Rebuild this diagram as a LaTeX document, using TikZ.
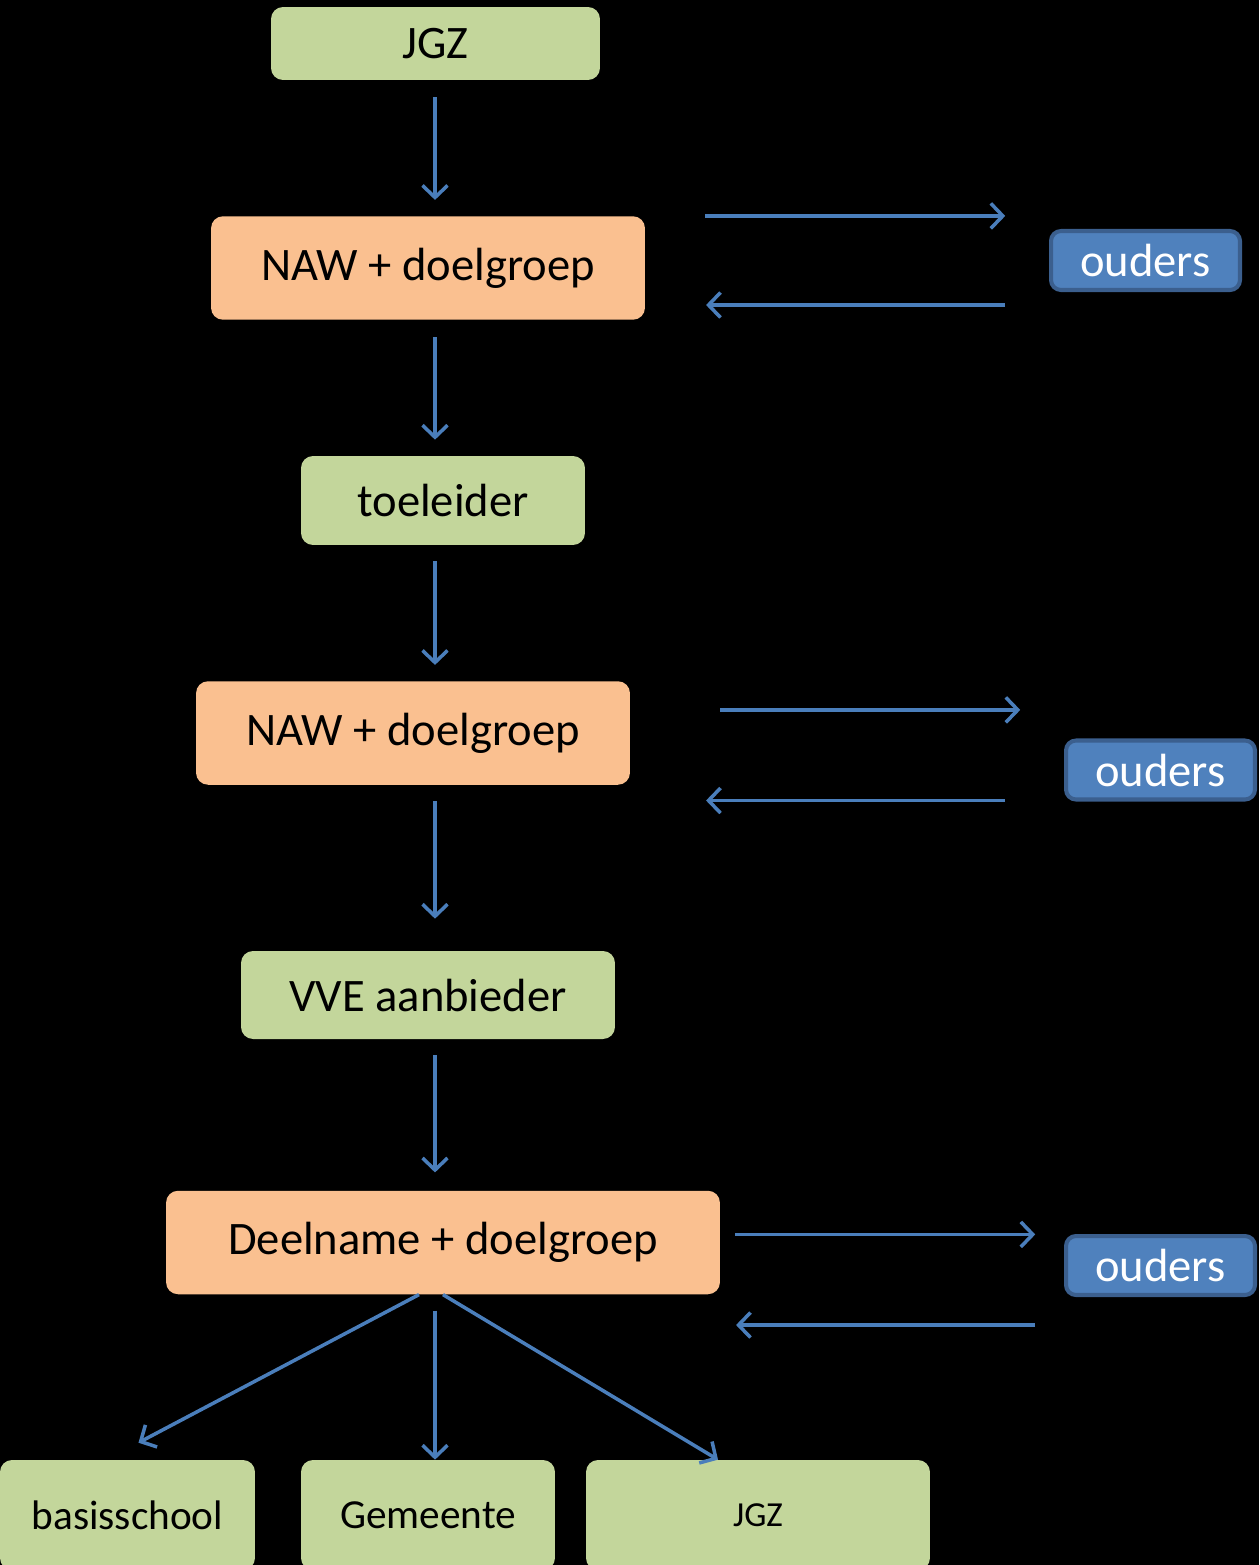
\documentclass[tikz,border=0pt]{standalone}
\usepackage{fontspec}
\setmainfont{Carlito}
\usetikzlibrary{arrows.meta}
\definecolor{boxgreen}{HTML}{C3D69B}
\definecolor{boxorange}{HTML}{FAC090}
\definecolor{boxblue}{HTML}{4F81BD}
\definecolor{boxblueline}{HTML}{3B5F8E}
\definecolor{flowblue}{HTML}{4A7EBB}
\begin{document}
\begin{tikzpicture}[x=0.02cm,y=-0.02cm,
    greenbox/.style={fill=boxgreen,rounded corners=0.24cm,inner sep=0pt,font=\fontsize{26.5}{30}\selectfont},
    orangebox/.style={fill=boxorange,rounded corners=0.24cm,inner sep=0pt,minimum height=2.07cm,font=\fontsize{26.5}{30}\selectfont},
    parentbox/.style={fill=boxblue,draw=boxblueline,line width=2.3pt,rounded corners=0.2cm,inner sep=0pt,minimum width=3.78cm,minimum height=1.18cm,text=white,font=\fontsize{26.5}{30}\selectfont},
    flow/.style={draw=flowblue,line width=2pt,-{Straight Barb[length=0.24cm,width=0.5cm,line width=2pt]}}]
                \fill[black] (0,0) rectangle (1259,1565);
                \clip (0,0) rectangle (1259,1565);
                \coordinate (spine) at (435,0);
                % main column
                \node[greenbox,minimum width=6.58cm,minimum height=1.46cm] (jgz) at (435.5,43.5) {JGZ};
                \node[orangebox,minimum width=8.68cm] (naw1) at (428,268) {NAW + doelgroep};
                \node[greenbox,minimum width=5.68cm,minimum height=1.78cm] (toel) at (443,500.5) {toeleider};
                \node[orangebox,minimum width=8.68cm] (naw2) at (413,733) {NAW + doelgroep};
                \node[greenbox,minimum width=7.48cm,minimum height=1.76cm] (vve) at (428,995) {VVE aanbieder};
                \node[orangebox,minimum width=11.08cm] (deel) at (443,1242.5) {Deelname + doelgroep};
                % parents
                \node[parentbox] (ouders1) at (1145.5,260.5) {ouders};
                \node[parentbox] (ouders2) at (1160.5,770) {ouders};
                \node[parentbox] (ouders3) at (1160.5,1265.5) {ouders};
                % receivers
                \node[greenbox,minimum width=5.1cm,minimum height=2.2cm,font=\fontsize{23.5}{28}\selectfont] (bas) at (127.5,1515) {basisschool};
                \node[greenbox,minimum width=5.08cm,minimum height=2.2cm,font=\fontsize{23.5}{28}\selectfont] (gem) at (428,1515) {Gemeente};
                \node[greenbox,minimum width=6.88cm,minimum height=2.2cm,font=\fontsize{20}{24}\selectfont] (jgzb) at (758,1515) {JGZ};
                % down the column
                \draw[flow,shorten <=0.34cm,shorten >=0.32cm] (jgz.south -| spine) -- (naw1.north -| spine);
                \draw[flow,shorten <=0.34cm,shorten >=0.32cm] (naw1.south -| spine) -- (toel.north -| spine);
                \draw[flow,shorten <=0.32cm,shorten >=0.32cm] (toel.south -| spine) -- (naw2.north -| spine);
                \draw[flow,shorten <=0.32cm,shorten >=0.64cm] (naw2.south -| spine) -- (vve.north -| spine);
                \draw[flow,shorten <=0.32cm,shorten >=0.36cm] (vve.south -| spine) -- (deel.north -| spine);
                % to and from the parents
                \draw[flow] ([xshift=1.2cm]naw1.north east) -- +(6cm,0);
                \draw[flow] ([xshift=-0.88cm,yshift=-0.26cm]ouders1.south west) -- +(-5.98cm,0);
                \draw[flow] ([xshift=1.8cm,yshift=-0.58cm]naw2.north east) -- +(6cm,0);
                \draw[flow] ([xshift=-1.18cm,yshift=0.02cm]ouders2.south west) -- +(-5.98cm,0);
                \draw[flow] ([xshift=0.3cm,yshift=-0.88cm]deel.north east) -- +(6cm,0);
                \draw[flow] ([xshift=-0.58cm,yshift=-0.56cm]ouders3.south west) -- +(-5.98cm,0);
                % to the receivers
                \draw[flow] ([xshift=-0.48cm]deel.south) -- ([xshift=0.22cm,yshift=0.34cm]bas.north);
                \draw[flow,shorten <=0.32cm] (deel.south -| spine) -- (gem.north -| spine);
                \draw[flow] (deel.south) -- ([xshift=-0.8cm]jgzb.north);
            \end{tikzpicture}
\end{document}
